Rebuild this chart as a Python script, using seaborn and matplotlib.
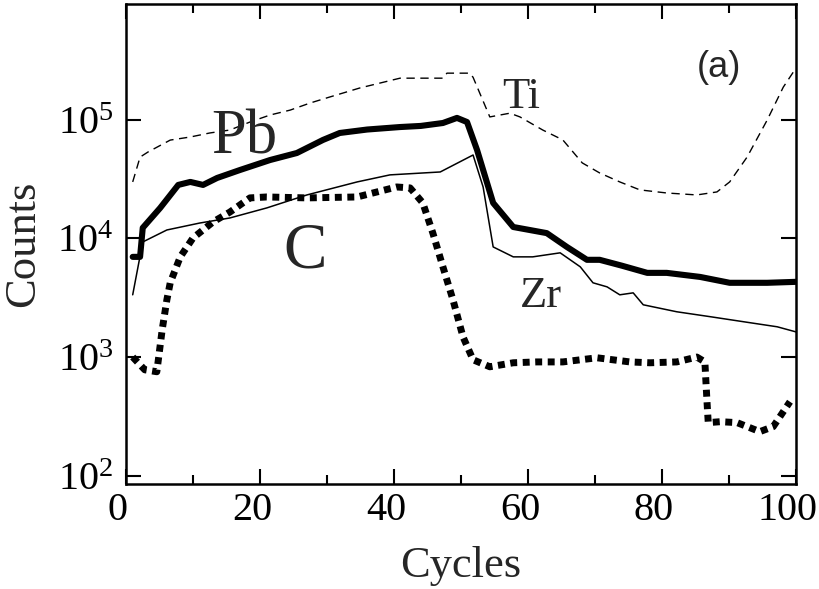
import numpy as np
import pandas as pd
import matplotlib
matplotlib.use("Agg")
import matplotlib.pyplot as plt
import matplotlib.transforms as mtransforms
import seaborn as sns

# ---------------- data ----------------
ti_x = [1.0, 2.1, 3.3, 6.6, 9.6, 12.5, 15.5, 18.5, 21.5, 24.5, 27.5, 30.4, 34.9,
        40.9, 47.3, 47.9, 51.3, 51.8, 54.3, 57.3, 58.8, 62.2, 65.2, 68.1, 70.7,
        73.7, 76.7, 80.7, 85.2, 88.2, 90.1, 92.7, 95.7, 98.1, 100.0]
ti_y = [30000, 48600, 53700, 67600, 71800, 77600, 82200, 96000, 110000, 121000,
        139000, 156000, 186000, 225000, 225000, 248000, 248000, 229000, 106000,
        114000, 106000, 82200, 67800, 43400, 35700, 30000, 25700, 24200, 23300,
        24700, 30000, 48600, 99800, 189000, 274000]

pb_x = [1.0, 2.1, 2.5, 5.1, 7.8, 9.6, 11.5, 13.6, 17.0, 21.5, 25.5, 29.4, 31.9,
        36.0, 40.9, 44.0, 47.3, 49.4, 50.9, 52.4, 54.8, 57.8, 62.8, 65.8, 68.8,
        70.7, 74.0, 77.8, 80.7, 85.7, 90.1, 95.7, 100.0]
pb_y = [7000, 7000, 12300, 18100, 28300, 30000, 28300, 32400, 37800, 45900,
        52600, 67800, 77600, 83000, 87100, 89000, 94200, 104000, 96000, 55700,
        19950, 12500, 11100, 8490, 6610, 6610, 5900, 5130, 5130, 4740, 4230,
        4230, 4310]

zr_x = [1.0, 2.5, 6.1, 11.0, 15.5, 21.0, 27.0, 34.5, 39.4, 46.9, 51.8, 53.3,
        54.8, 57.8, 60.7, 64.8, 67.8, 69.7, 71.8, 73.7, 75.7, 77.2, 82.2, 87.2,
        93.1, 97.2, 100.0]
zr_y = [3350, 9350, 11800, 13500, 14900, 18100, 23300, 30000, 34400, 36400,
        50600, 27200, 8490, 7000, 7000, 7570, 5770, 4230, 3910, 3350, 3480, 2760,
        2410, 2190, 1950, 1800, 1630]

c_x = [1.0, 2.8, 4.6, 5.4, 6.1, 6.6, 8.1, 10.0, 13.0, 15.5, 18.5, 21.0, 27.0,
       34.5, 40.4, 42.4, 44.3, 45.8, 47.3, 48.8, 50.3, 51.8, 54.3, 57.8, 61.3,
       65.2, 70.3, 75.2, 78.2, 82.2, 85.2, 86.4, 86.7, 86.9, 88.7, 91.2, 94.6,
       96.6, 99.1]
c_y = [1000, 781, 752, 1700, 3040, 4230, 7000, 10100, 13800, 16700, 22000,
       22400, 22000, 22400, 27200, 26700, 19950, 11100, 5770, 3040, 1480, 949,
       828, 895, 910, 910, 986, 910, 895, 910, 1000, 910, 437, 280, 285, 280,
       235, 259, 420]

x_ticks = [0, 20, 40, 60, 80, 100]
y_ticks = [1e2, 1e3, 1e4, 1e5]

# ---------------- style ----------------
sns.set_theme(style="ticks")
plt.rcParams["font.family"] = ["Liberation Serif", "DejaVu Serif"]
plt.rcParams["mathtext.fontset"] = "stix"

fig = plt.figure(figsize=(8.2, 5.89), dpi=100)
ax = fig.add_axes([126 / 820, 1 - 484 / 589, 670 / 820, 480 / 589])

sns.lineplot(x=ti_x, y=ti_y, ax=ax, color="black", lw=1.0,
             linestyle=(0, (6, 4)), sort=False)
sns.lineplot(x=zr_x, y=zr_y, ax=ax, color="black", lw=1.1, sort=False)
sns.lineplot(x=pb_x, y=pb_y, ax=ax, color="black", lw=4.4, sort=False,
             solid_joinstyle="round")
sns.lineplot(x=c_x, y=c_y, ax=ax, color="black", lw=5.0,
             linestyle=(0, (1.0, 0.8)), sort=False)

ax.set_yscale("log")
ax.set_xlim(0, 100)
ax.set_ylim(85, 9.5e5)
ax.set_xticks(x_ticks)
ax.set_xticks(range(10, 100, 20), minor=True)
ax.set_yticks(y_ticks)
ax.yaxis.set_minor_locator(matplotlib.ticker.NullLocator())

for s in ax.spines.values():
    s.set_linewidth(1.8)
    s.set_color("black")

ax.tick_params(axis="both", which="major", direction="in", length=11,
               width=1.5, labelsize=29, top=True, right=True, color="black",
               labelcolor="black")
ax.tick_params(axis="x", which="major", pad=6)
ax.tick_params(axis="y", which="major", pad=9)
ax.tick_params(axis="x", which="minor", direction="in", length=6.5,
               width=1.5, top=True, color="black")

# x tick labels sit slightly left of their ticks in the reference
shift = mtransforms.ScaledTranslation(-8 / 100, 0, fig.dpi_scale_trans)
for lab in ax.get_xticklabels():
    lab.set_transform(lab.get_transform() + shift)

ax.set_xlabel("Cycles", fontsize=32, labelpad=12)
ax.set_ylabel("Counts", fontsize=32, labelpad=10)

ax.text(17.6, 52600, "Pb", fontsize=45, ha="center", va="baseline")
ax.text(26.7, 5650, "C", fontsize=47, ha="center", va="baseline")
ax.text(59.0, 126000, "Ti", fontsize=32, ha="center", va="baseline")
ax.text(61.9, 2660, "Zr", fontsize=32, ha="center", va="baseline")
ax.text(88.5, 279000, "(a)", fontsize=26, ha="center", va="center",
        family=["Liberation Sans", "DejaVu Sans"])

fig.savefig("out.png", dpi=100)
